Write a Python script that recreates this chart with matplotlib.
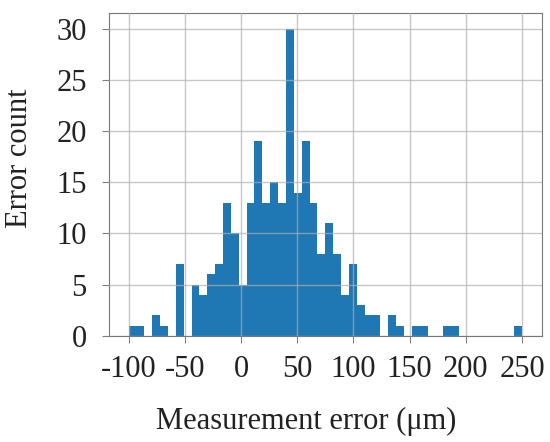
import numpy as np
import matplotlib
matplotlib.use("Agg")
import matplotlib.pyplot as plt

# histogram of measurement errors, 50 bins from -100 to 250 um
bin_edges = np.linspace(-100, 250, 51)
counts = [1, 1, 0, 2, 1, 0, 7, 0, 5, 4,
          6, 7, 13, 10, 5, 13, 19, 13, 15, 13,
          30, 14, 19, 13, 8, 11, 8, 4, 7, 3,
          2, 2, 0, 2, 1, 0, 1, 1, 0, 0,
          1, 1, 0, 0, 0, 0, 0, 0, 0, 1]
x_ticks = [-100, -50, 0, 50, 100, 150, 200, 250]
y_ticks = [0, 5, 10, 15, 20, 25, 30]

plt.rcParams['font.family'] = ['Liberation Serif', 'DejaVu Serif']
plt.rcParams['axes.unicode_minus'] = False

fig = plt.figure(figsize=(5.5, 4.42), dpi=100)
ax = fig.add_axes([0.198, 0.24, 0.787, 0.73])

ax.hist(bin_edges[:-1], bins=bin_edges, weights=counts, color='#1f77b4', zorder=1)

ax.set_xticks(x_ticks)
ax.set_yticks(y_ticks)
ax.grid(True, color='#b0b0b0', linewidth=1, alpha=0.7, zorder=3)
ax.set_axisbelow(False)
for s in ax.spines.values():
    s.set_color('#777777')
ax.tick_params(colors='#808080', labelcolor='#222222', labelsize=22, length=5)
ax.tick_params(axis='x', pad=9)
ax.tick_params(axis='y', pad=11)

ax.set_xlabel('Measurement error (μm)', fontsize=22, color='#222222', labelpad=16)
ax.xaxis.label.set_x(0.455)
ax.set_ylabel('Error count', fontsize=22, color='#222222', va='center')
ax.yaxis.set_label_coords(-0.206, 0.55)

fig.savefig('out.png', dpi=100)
